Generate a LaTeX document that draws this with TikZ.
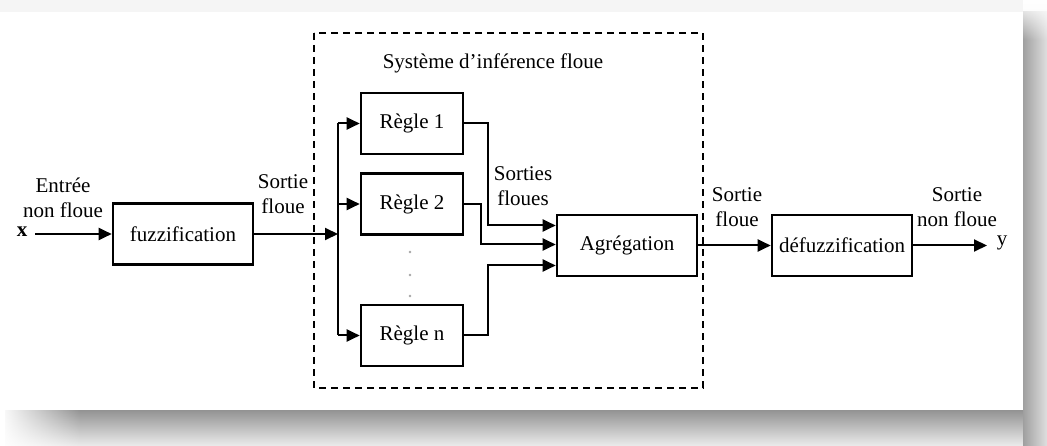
\documentclass[tikz,border=0pt]{standalone}
\usepackage{fontspec}
\setmainfont{Liberation Serif}
\usetikzlibrary{arrows.meta,fadings}
\begin{document}
\begin{tikzpicture}[x=1pt,y=-1pt,
  box/.style={draw,line width=2.6pt,minimum width=140pt,minimum height=61pt,inner sep=0pt,font=\fontsize{21}{24}\selectfont},
  rule/.style={box,minimum width=102pt},
  lbl/.style={align=center,font=\fontsize{21}{25}\selectfont,inner sep=0pt},
  conn/.style={line width=2pt},
  arr/.style={conn,-{Triangle[length=13pt,width=12pt]}}
]
\useasboundingbox (0,0) rectangle (1047,446);
% background and shadow
\fill[white] (0,0) rectangle (1047,446);
\fill[gray!8] (0,0) rectangle (1047,12);
\shade[top color=gray!85,bottom color=gray!15] (5,410) rectangle (1047,446);
\shade[left color=gray!75,right color=gray!25] (1023,12) rectangle (1047,446);
\fill[white,path fading=east] (0,405) rectangle (80,446);
\fill[white,path fading=south] (1023,0) rectangle (1047,40);
\fill[white] (5,12) rectangle (1023,410);
% dashed system box
\draw[line width=2.5pt,dash pattern=on 7pt off 5pt] (314,33) rectangle (703,388);
\node[lbl] (sys) at (493,63) {Système d’inférence floue};
% boxes
\node[box] (fuzz) at (183,234) {fuzzification};
\node[rule] (r1) at (412,123.5) {Règle 1};
\node[rule] (r2) at (412,204) {Règle 2};
\node[rule] (rn) at (412,335.5) {Règle n};
\node[box] (agg) at (627,245.5) {Agrégation};
\node[box] (defz) at (842,245.5) {défuzzification};
% dots
\foreach \yy [count=\i] in {252,275,296} \fill[gray!70] (410,\yy) circle (1.4pt) coordinate (dot\i);
% input
\node[lbl,font=\fontsize{21}{25}\selectfont\bfseries] (xin) at (22,232) {x};
\coordinate (xs) at (35,234);
\draw[arr] (xs) -- (fuzz.west);
\node[lbl] (lin) at (63,198) {Entrée\\non floue};
% bus
\coordinate (bus) at (338,234);
\draw[arr] (fuzz.east) -- (bus);
\node[lbl] (lsf) at (283,194) {Sortie\\floue};
\coordinate (b1) at (338,123.5);
\coordinate (bn) at (338,335.5);
\draw[conn] (b1) -- (bn);
\draw[arr] (b1) -- (r1.west);
\draw[arr] (r2.west -| bus) -- (r2.west);
\draw[arr] (bn) -- (rn.west);
% rule outputs
\draw[arr] (r1.east) -- ++(24,0) |- ([yshift=20pt]agg.west);
\draw[arr] (r2.east) -- ++(17,0) |- ([yshift=1pt]agg.west);
\draw[arr] (rn.east) -- ++(24,0) |- ([yshift=-20pt]agg.west);
\node[lbl] (lsfs) at (523,186) {Sorties\\floues};
% outputs
\draw[arr] (agg.east) -- (defz.west);
\node[lbl] (lsf2) at (737,207) {Sortie\\floue};
\coordinate (ys) at (987,245.5);
\draw[arr] (defz.east) -- (ys);
\node[lbl] (yout) at (1002,243) {y};
\node[lbl] (lout) at (957,207) {Sortie\\non floue};
\end{tikzpicture}
\end{document}
